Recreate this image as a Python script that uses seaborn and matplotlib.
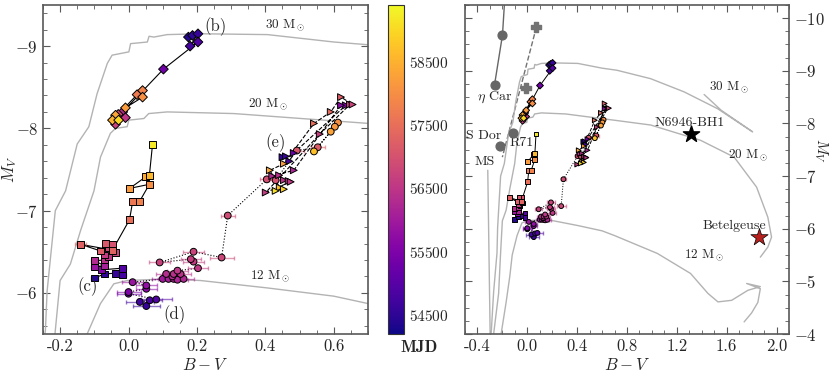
import matplotlib
matplotlib.use('Agg')
import matplotlib.pyplot as plt
import matplotlib.ticker as mticker
import matplotlib.colors as mcolors
import seaborn as sns
import pandas as pd

# ---- star (b): diamonds, solid line ----
b_bv = [0.175, 0.187, 0.203, 0.180, 0.203, 0.102, -0.017, -0.009, -0.038, -0.030,
        0.025, 0.041, 0.041, -0.009, -0.038, -0.047, -0.029]
b_mv = [-9.11, -9.13, -9.15, -9.00, -9.05, -8.72, -8.20, -8.13, -8.05, -8.17,
        -8.41, -8.46, -8.38, -8.25, -8.16, -8.10, -8.10]
b_mjd = [54400, 54500, 54600, 54750, 54900, 55300, 56300, 56500, 56700, 56900,
         57700, 57850, 58000, 58200, 58350, 58500, 59000]

# ---- star (c): squares, solid line ----
c_bv = [-0.100, -0.070, -0.038, -0.018, -0.018, -0.080, -0.100, -0.070, -0.100, -0.070,
        -0.059, -0.070, -0.038, -0.059, -0.047, -0.067, -0.082, -0.140, -0.047, 0.003,
        0.012, 0.032, 0.061, 0.003, 0.050, 0.061, 0.070]
c_mv = [-6.18, -6.23, -6.24, -6.22, -6.30, -6.28, -6.32, -6.33, -6.39, -6.40,
        -6.44, -6.46, -6.49, -6.55, -6.59, -6.60, -6.51, -6.59, -6.52, -6.89,
        -7.11, -7.11, -7.32, -7.27, -7.41, -7.43, -7.80]
c_mjd = [54400, 54500, 54600, 54750, 54900, 55600, 55900, 56100, 56300, 56400,
         56500, 56600, 56700, 56900, 57000, 57100, 57200, 57250, 57300, 57500,
         57650, 57800, 58000, 58200, 58400, 58600, 59200]
c_err = [0.01, 0.0, 0.0, 0.01, 0.01, 0.0, 0.01, 0.0, 0.01, 0.0,
         0.0, 0.0, 0.0, 0.0, 0.0, 0.0, 0.0, 0.015, 0.0, 0.0,
         0.0, 0.0, 0.0, 0.0, 0.0, 0.0, 0.0]

# ---- star (d): circles with errors, dotted line ----
d_bv = [0.052, 0.033, 0.062, 0.081, 0.000, 0.000, 0.052, 0.052, 0.012, 0.100,
        0.117, 0.132, 0.143, 0.161, 0.128, 0.110, 0.132, 0.152, 0.143, 0.203,
        0.190, 0.182, 0.091, 0.190, 0.272, 0.290, 0.404, 0.430, 0.492, 0.553,
        0.612, 0.603, 0.591, 0.542]
d_mv = [-5.84, -5.89, -5.91, -5.92, -5.99, -6.01, -6.05, -6.09, -6.13, -6.17,
        -6.17, -6.17, -6.16, -6.17, -6.20, -6.23, -6.23, -6.23, -6.27, -6.30,
        -6.38, -6.41, -6.37, -6.50, -6.43, -6.94, -7.38, -7.37, -7.73, -7.77,
        -8.07, -8.02, -7.96, -7.72]
d_mjd = [54600, 54700, 54800, 54900, 55300, 55500, 55700, 55800, 55900, 56000,
         56100, 56150, 56200, 56250, 56300, 56350, 56400, 56450, 56500, 56550,
         56600, 56650, 56700, 56750, 56800, 56900, 56950, 57000, 57100, 57200,
         58000, 58150, 58300, 58700]
d_err = [0.04, 0.04, 0.035, 0.045, 0.035, 0.035, 0.03, 0.03, 0.03, 0.03,
         0.03, 0.03, 0.03, 0.03, 0.03, 0.03, 0.03, 0.03, 0.03, 0.03,
         0.03, 0.03, 0.03, 0.03, 0.035, 0.02, 0.02, 0.02, 0.02, 0.02,
         0.0, 0.0, 0.0, 0.01]

# ---- star (e): triangles, dashed line ----
e_bv = [0.450, 0.460, 0.470, 0.483, 0.635, 0.621, 0.483, 0.420, 0.440, 0.454,
        0.468, 0.474, 0.401, 0.559, 0.647, 0.655, 0.621, 0.591, 0.542, 0.454,
        0.413, 0.442, 0.454, 0.430]
e_mv = [-7.65, -7.66, -7.60, -7.70, -8.28, -8.28, -7.49, -7.42, -7.43, -7.37,
        -7.36, -7.35, -7.22, -7.93, -8.29, -8.29, -8.38, -8.20, -8.06, -7.57,
        -7.49, -7.28, -7.26, -7.24]
e_mjd = [54500, 54600, 54800, 55200, 55500, 55700, 56200, 56300, 56400, 56450,
         56500, 56550, 56600, 56650, 56700, 56750, 57200, 57400, 57500, 58200,
         58400, 58700, 58900, 59100]

# ---- evolutionary tracks ----
trk30_bv = [-0.29, -0.27, -0.243, -0.238, -0.228, -0.214, -0.184, -0.15, -0.116, -0.092,
            -0.062, -0.048, 0.001, 0.006, 0.055, 0.06, 0.074, 0.113, 0.211, 0.406,
            0.60, 0.72, 0.99, 1.258, 1.527, 1.808, 1.556, 1.419]
trk30_mv = [-4.0, -4.8, -5.54, -6.02, -6.43, -7.00, -7.24, -7.81, -8.02, -8.42,
            -8.79, -8.89, -8.93, -9.03, -9.05, -9.12, -9.11, -9.14, -9.15, -9.14,
            -9.05, -9.01, -8.85, -8.60, -8.28, -7.84, -8.25, -8.55]
trk20_bv = [-0.27, -0.23, -0.215, -0.20, -0.17, -0.14, -0.101, -0.082, -0.053, -0.038,
            -0.004, 0.001, 0.045, 0.059, 0.113, 0.308, 0.504, 0.702, 0.99, 1.39,
            1.66, 1.84, 1.93, 1.96, 1.93, 1.87]
trk20_mv = [-4.0, -4.77, -5.5, -6.15, -6.35, -6.76, -7.24, -7.65, -7.94, -8.00,
            -8.02, -8.10, -8.12, -8.18, -8.20, -8.18, -8.12, -8.06, -7.97, -7.68,
            -7.36, -6.79, -6.22, -5.84, -5.65, -5.46]
trk12_bv = [-0.21, -0.17, -0.14, -0.121, -0.082, -0.043, -0.004, 0.113, 0.211, 0.406,
            0.60, 0.70, 1.044, 1.31, 1.45, 1.53, 1.64, 1.77, 1.87, 1.76,
            1.87, 1.85, 1.80, 1.74]
trk12_mv = [-4.0, -4.6, -5.1, -5.5, -5.87, -6.11, -6.15, -6.17, -6.15, -6.06,
            -5.96, -5.87, -5.53, -5.15, -4.77, -4.61, -4.64, -4.83, -4.90, -4.96,
            -4.86, -4.60, -4.40, -4.23]
ms_bv = [-0.317, -0.298]
ms_mv = [-7.11, -4.0]

# ---- comparison objects (right panel) ----
etacar_bv = [-0.263, -0.199, -0.18]
etacar_mv = [-8.73, -9.68, -10.4]
plus_bv = [0.073, -0.008]
plus_mv = [-9.83, -8.67]
dash_bv = [0.073, -0.20]
dash_mv = [-9.83, -7.36]
sdor_bv, sdor_mv = -0.22, -7.57
r71_bv, r71_mv = -0.115, -7.81
bh1_bv, bh1_mv = 1.315, -7.79
betel_bv, betel_mv = 1.857, -5.84

MJD_MIN, MJD_MAX = 54200, 59400
MJD_TICKS = [54500, 55500, 56500, 57500, 58500]

sns.set_style('ticks')
plt.rcParams['font.family'] = ['cmr10', 'DejaVu Serif']
plt.rcParams['mathtext.fontset'] = 'cm'
plt.rcParams['axes.unicode_minus'] = False
plt.rcParams['axes.formatter.use_mathtext'] = True

cmap = plt.get_cmap('plasma')
norm = mcolors.Normalize(MJD_MIN, MJD_MAX)
tracks = [(trk30_bv, trk30_mv), (trk20_bv, trk20_mv), (trk12_bv, trk12_mv)]


def draw_stars(ax, s, lw):
    for bv, mv in tracks:
        ax.plot(bv, mv, color='0.7', lw=1.0, zorder=1)

    series = [
        (b_bv, b_mv, b_mjd, None, 'D', '-'),
        (c_bv, c_mv, c_mjd, c_err, 's', '-'),
        (d_bv, d_mv, d_mjd, d_err, 'o', ':'),
        (e_bv, e_mv, e_mjd, None, '>', '--'),
    ]
    for bv, mv, mjd, err, mk, ls in series:
        df = pd.DataFrame({'bv': bv, 'mv': mv, 'mjd': mjd})
        sns.lineplot(data=df, x='bv', y='mv', sort=False, estimator=None,
                     color='k', lw=lw, linestyle=ls, ax=ax, zorder=2)
        if err is not None:
            for x, y, m, e in zip(bv, mv, mjd, err):
                if e > 0:
                    ax.errorbar(x, y, xerr=e, fmt='none', ecolor=cmap(norm(m)),
                                alpha=0.55, elinewidth=1.0, capsize=1.5, zorder=2)
        sns.scatterplot(data=df, x='bv', y='mv', hue='mjd', palette='plasma',
                        hue_norm=norm, marker=mk, s=s, edgecolor='k',
                        linewidth=0.7, legend=False, ax=ax, zorder=3)


def style_axes(ax):
    ax.tick_params(which='both', direction='in', top=True, right=True,
                   left=True, bottom=True, color='0.35')
    ax.tick_params(which='major', length=5, labelsize=12)
    ax.tick_params(which='minor', length=3)
    for sp in ax.spines.values():
        sp.set_color('0.35')
        sp.set_linewidth(1.2)
    ax.set_xlabel('$B-V$', fontsize=12, labelpad=2)


fig = plt.figure(figsize=(8.3, 3.78), dpi=100)
ax1 = fig.add_axes([0.0518, 0.1164, 0.3916, 0.8704])
cax = fig.add_axes([0.4675, 0.1164, 0.0193, 0.8704])
ax2 = fig.add_axes([0.5602, 0.1164, 0.3904, 0.8704])

# ---- left panel ----
draw_stars(ax1, 24, 0.8)
ax1.set_xlim(-0.25, 0.7)
ax1.set_ylim(-5.5, -9.5)
ax1.xaxis.set_major_locator(mticker.MultipleLocator(0.2))
ax1.xaxis.set_minor_locator(mticker.MultipleLocator(0.05))
ax1.yaxis.set_major_locator(mticker.MultipleLocator(1))
ax1.yaxis.set_minor_locator(mticker.MultipleLocator(0.2))
ax1.xaxis.set_major_formatter(mticker.FormatStrFormatter('%.1f'))
style_axes(ax1)
ax1.set_ylabel('$M_V$', fontsize=12)
ax1.yaxis.set_label_coords(-0.074, 0.5)

ax1.text(0.222, -9.24, '(b)', fontsize=12, va='center')
ax1.text(0.40, -7.83, '(e)', fontsize=12, va='center')
ax1.text(-0.149, -6.07, '(c)', fontsize=12, va='center')
ax1.text(0.103, -5.74, '(d)', fontsize=12, va='center')
ax1.text(0.40, -9.16, r'30 M$_\odot$', fontsize=9.5, va='bottom')
ax1.text(0.35, -8.20, r'20 M$_\odot$', fontsize=9.5, va='bottom')
ax1.text(0.355, -6.20, r'12 M$_\odot$', fontsize=9.5, va='center')

# ---- colourbar ----
sm = plt.cm.ScalarMappable(norm=norm, cmap=cmap)
cb = fig.colorbar(sm, cax=cax, ticks=MJD_TICKS)
cb.ax.tick_params(labelsize=11, length=3, direction='in', color='0.35')
cb.outline.set_edgecolor('0.2')
fig.text(419 / 830, 1 - 348 / 378, 'MJD', family='cmb10', fontsize=12,
         ha='center', va='center')

# ---- right panel ----
ax2.plot(ms_bv, ms_mv, color='0.7', lw=1.0, zorder=1)
ax2.plot(dash_bv, dash_mv, color='0.45', lw=1.0, linestyle='--', zorder=1)
ax2.plot(etacar_bv, etacar_mv, color='0.4', lw=1.0, zorder=1)
ax2.scatter(etacar_bv[:2], etacar_mv[:2], color='0.4', s=40, zorder=4)
ax2.scatter([sdor_bv, r71_bv], [sdor_mv, r71_mv], color='0.4', s=40, zorder=4)
ax2.scatter(plus_bv, plus_mv, color='0.45', marker='P', s=60, zorder=4)
draw_stars(ax2, 12, 0.7)
ax2.scatter([bh1_bv], [bh1_mv], color='k', marker='*', s=150, zorder=5)
ax2.scatter([betel_bv], [betel_mv], color='#b8201e', edgecolor='k', lw=0.5,
            marker='*', s=170, zorder=5)
ax2.set_xlim(-0.5, 2.1)
ax2.set_ylim(-4, -10.25)
ax2.xaxis.set_major_locator(mticker.MultipleLocator(0.4))
ax2.xaxis.set_minor_locator(mticker.MultipleLocator(0.1))
ax2.yaxis.set_major_locator(mticker.MultipleLocator(1))
ax2.yaxis.set_minor_locator(mticker.MultipleLocator(0.25))
ax2.xaxis.set_major_formatter(mticker.FormatStrFormatter('%.1f'))
style_axes(ax2)
ax2.tick_params(labelleft=False, labelright=True)
ax2.yaxis.set_label_position('right')
ax2.set_ylabel('$M_V$', fontsize=11, rotation=270, va='center')
ax2.yaxis.set_label_coords(1.098, 0.559)

ax2.text(-0.26, -8.50, r'$\eta$ Car', fontsize=10, ha='center', va='center')
ax2.text(-0.21, -7.76, 'S Dor', fontsize=10, ha='right', va='center')
ax2.text(-0.14, -7.62, 'R71', fontsize=10, ha='left', va='center')
ax2.text(-0.34, -7.26, 'MS', fontsize=10, ha='center', va='center')
ax2.text(1.30, -8.0, 'N6946-BH1', fontsize=10, ha='center', va='center')
ax2.text(1.66, -6.06, 'Betelgeuse', fontsize=10, ha='center', va='center')
ax2.text(1.46, -8.69, r'30 M$_\odot$', fontsize=9.5, va='center')
ax2.text(1.61, -7.40, r'20 M$_\odot$', fontsize=9.5, va='center')
ax2.text(1.26, -5.49, r'12 M$_\odot$', fontsize=9.5, va='center')

fig.savefig('out.png', dpi=100)
